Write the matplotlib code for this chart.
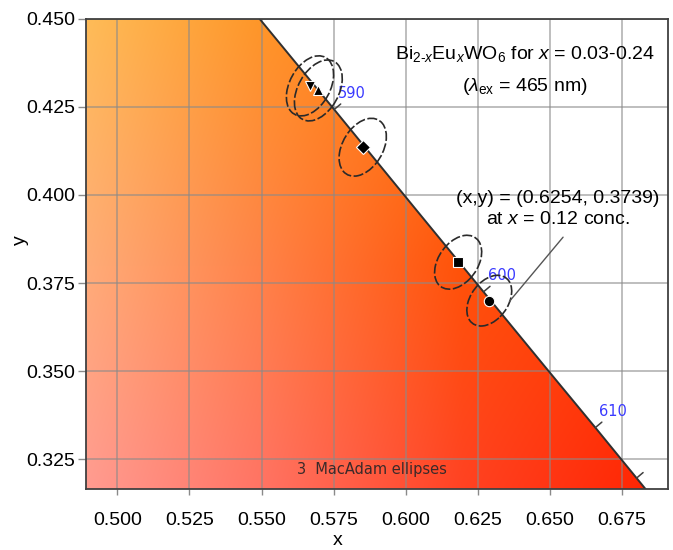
import numpy as np
import matplotlib
matplotlib.use("Agg")
import matplotlib.pyplot as plt
from matplotlib.patches import Ellipse, Polygon

plt.rcParams['font.family'] = ['Liberation Sans', 'DejaVu Sans']
plt.rcParams['mathtext.fontset'] = 'custom'
plt.rcParams['mathtext.rm'] = 'Liberation Sans'
plt.rcParams['mathtext.it'] = 'Liberation Sans:italic'

# ---- data ----
# CIE 1931 spectral locus (nm, x, y)
locus_nm = [580, 585, 590, 595, 600, 605, 610, 615, 620, 625]
locus_x = [0.5125, 0.5448, 0.5752, 0.6029, 0.6270, 0.6482, 0.6658, 0.6801, 0.6915, 0.7006]
locus_y = [0.4866, 0.4544, 0.4242, 0.3965, 0.3725, 0.3514, 0.3340, 0.3197, 0.3083, 0.2993]
tick_nm = [590, 600, 610, 615]
label_nm = [590, 600, 610]

# chromaticity points of the samples
pt_x = [0.5668, 0.5697, 0.5851, 0.6182, 0.6290]
pt_y = [0.4309, 0.4296, 0.4135, 0.3809, 0.3700]
pt_marker = ['v', '^', 'D', 's', 'o']
# 3-step MacAdam ellipses (semi-axes, angle in deg)
ell_a = [0.0098, 0.0100, 0.0096, 0.0093, 0.0088]
ell_b = [0.0066, 0.0066, 0.0065, 0.0062, 0.0059]
ell_ang = [48, 48, 45, 40, 39]

x_ticks = [0.500, 0.525, 0.550, 0.575, 0.600, 0.625, 0.650, 0.675]
y_ticks = [0.325, 0.350, 0.375, 0.400, 0.425, 0.450]
xlim = (0.4891, 0.6910)
ylim = (0.3166, 0.4500)

# ---- figure ----
fig = plt.figure(figsize=(6.73, 5.5), dpi=100)
ax = fig.add_axes([86/673, 1-489/550, (668-86)/673, (489-18.5)/550])
ax.set_xlim(*xlim)
ax.set_ylim(*ylim)

# background colour field (gamma RGB anchors)
anc_x = [0.489, 0.55, 0.62, 0.69]
anc_y = [0.316, 0.38, 0.45]
anc_c = np.array([
    [[255, 155, 145], [255, 115, 100], [255, 66, 35], [255, 35, 0]],
    [[255, 172, 120], [255, 130, 72], [255, 82, 8], [255, 60, 0]],
    [[254, 188, 88], [255, 150, 40], [255, 120, 10], [255, 100, 0]],
], dtype=float) / 255.0
gx = np.linspace(xlim[0], xlim[1], 500)
gy = np.linspace(ylim[0], ylim[1], 400)
rows = np.empty((len(anc_y), len(gx), 3))
for i in range(len(anc_y)):
    for ch in range(3):
        rows[i, :, ch] = np.interp(gx, anc_x, anc_c[i, :, ch])
img = np.empty((len(gy), len(gx), 3))
for j in range(len(gx)):
    for ch in range(3):
        img[:, j, ch] = np.interp(gy, anc_y, rows[:, j, ch])
im = ax.imshow(img, origin='lower', extent=[xlim[0], xlim[1], ylim[0], ylim[1]],
               aspect='auto', interpolation='bilinear', zorder=0)
poly_pts = list(zip(locus_x, locus_y)) + [(0.40, locus_y[-1]), (0.40, locus_y[0])]
clip = Polygon(poly_pts, closed=True, transform=ax.transData, facecolor='none', edgecolor='none')
ax.add_patch(clip)
im.set_clip_path(clip)

# locus line
ax.plot(locus_x, locus_y, color='#303030', lw=1.4, zorder=3)

# wavelength ticks and labels
for nm in tick_nm:
    k = locus_nm.index(nm)
    ax.annotate('', xy=(locus_x[k], locus_y[k]), xytext=(6.5, 5.5), textcoords='offset pixels',
                arrowprops=dict(arrowstyle='-', color='#404040', lw=1.1, shrinkA=0, shrinkB=0), zorder=3)
for nm in label_nm:
    k = locus_nm.index(nm)
    ax.annotate(str(nm), xy=(locus_x[k], locus_y[k]), xytext=(18, 16), textcoords='offset pixels',
                ha='center', va='center', color='#3a3aff', fontsize=10.5, family='DejaVu Sans', zorder=4)

# grid
ax.set_xticks(x_ticks)
ax.set_yticks(y_ticks)
ax.set_xticklabels(['%.3f' % v for v in x_ticks])
ax.set_yticklabels(['%.3f' % v for v in y_ticks])
ax.grid(True, color='#8a8a8a', alpha=0.6, lw=1.3, zorder=1)
ax.tick_params(axis='x', length=4.5, width=1, color='#8a8a8a', pad=12, labelsize=14)
ax.tick_params(axis='y', length=6, width=1, color='#8a8a8a', pad=1.5, labelsize=14)
for s in ax.spines.values():
    s.set_color('#404040')
    s.set_linewidth(1.3)
    s.set_zorder(6)

# ellipses and points
for i in range(len(pt_x)):
    e = Ellipse((pt_x[i], pt_y[i]), 2*ell_a[i], 2*ell_b[i], angle=ell_ang[i],
                fill=False, edgecolor='#2a2a2a', lw=1.2, linestyle=(0, (6, 1.5)), zorder=4)
    ax.add_patch(e)
    ax.plot(pt_x[i], pt_y[i], marker=pt_marker[i], color='black', markersize=7.5,
            markeredgecolor='white', markeredgewidth=0.8, linestyle='none', zorder=5)

# texts
ax.text(0.6414, 0.4399, r'Bi$_{2\text{-}x}$Eu$_{x}$WO$_{6}$ for $x$ = 0.03-0.24',
        ha='center', va='center', fontsize=14, zorder=6)
ax.text(0.6414, 0.4307, r'($\lambda_{\mathrm{ex}}$ = 465 nm)', ha='center', va='center', fontsize=14, zorder=6)
ax.text(0.6527, 0.3991, '(x,y) = (0.6254, 0.3739)', ha='center', va='center', fontsize=14, zorder=6)
ax.text(0.6527, 0.3931, r'at $x$ = 0.12 conc.', ha='center', va='center', fontsize=14, zorder=6)
ax.annotate('', xy=(0.6360, 0.3698), xytext=(0.6546, 0.3880),
            arrowprops=dict(arrowstyle='-', color='#555555', lw=1.0, shrinkA=0, shrinkB=0), zorder=4)
ax.text(0.5884, 0.3220, '3  MacAdam ellipses', ha='center', va='center', fontsize=10.5,
        family='DejaVu Sans', color='#3a2a2a', zorder=6)

ax.set_xlabel('x', fontsize=14)
ax.set_ylabel('y', fontsize=14)
ax.xaxis.set_label_coords(0.433, -0.11)
ax.xaxis.label.set_verticalalignment('center')
ax.yaxis.set_label_coords(-0.112, 0.529)
ax.yaxis.label.set_verticalalignment('center')

fig.savefig('out.png', dpi=100)
